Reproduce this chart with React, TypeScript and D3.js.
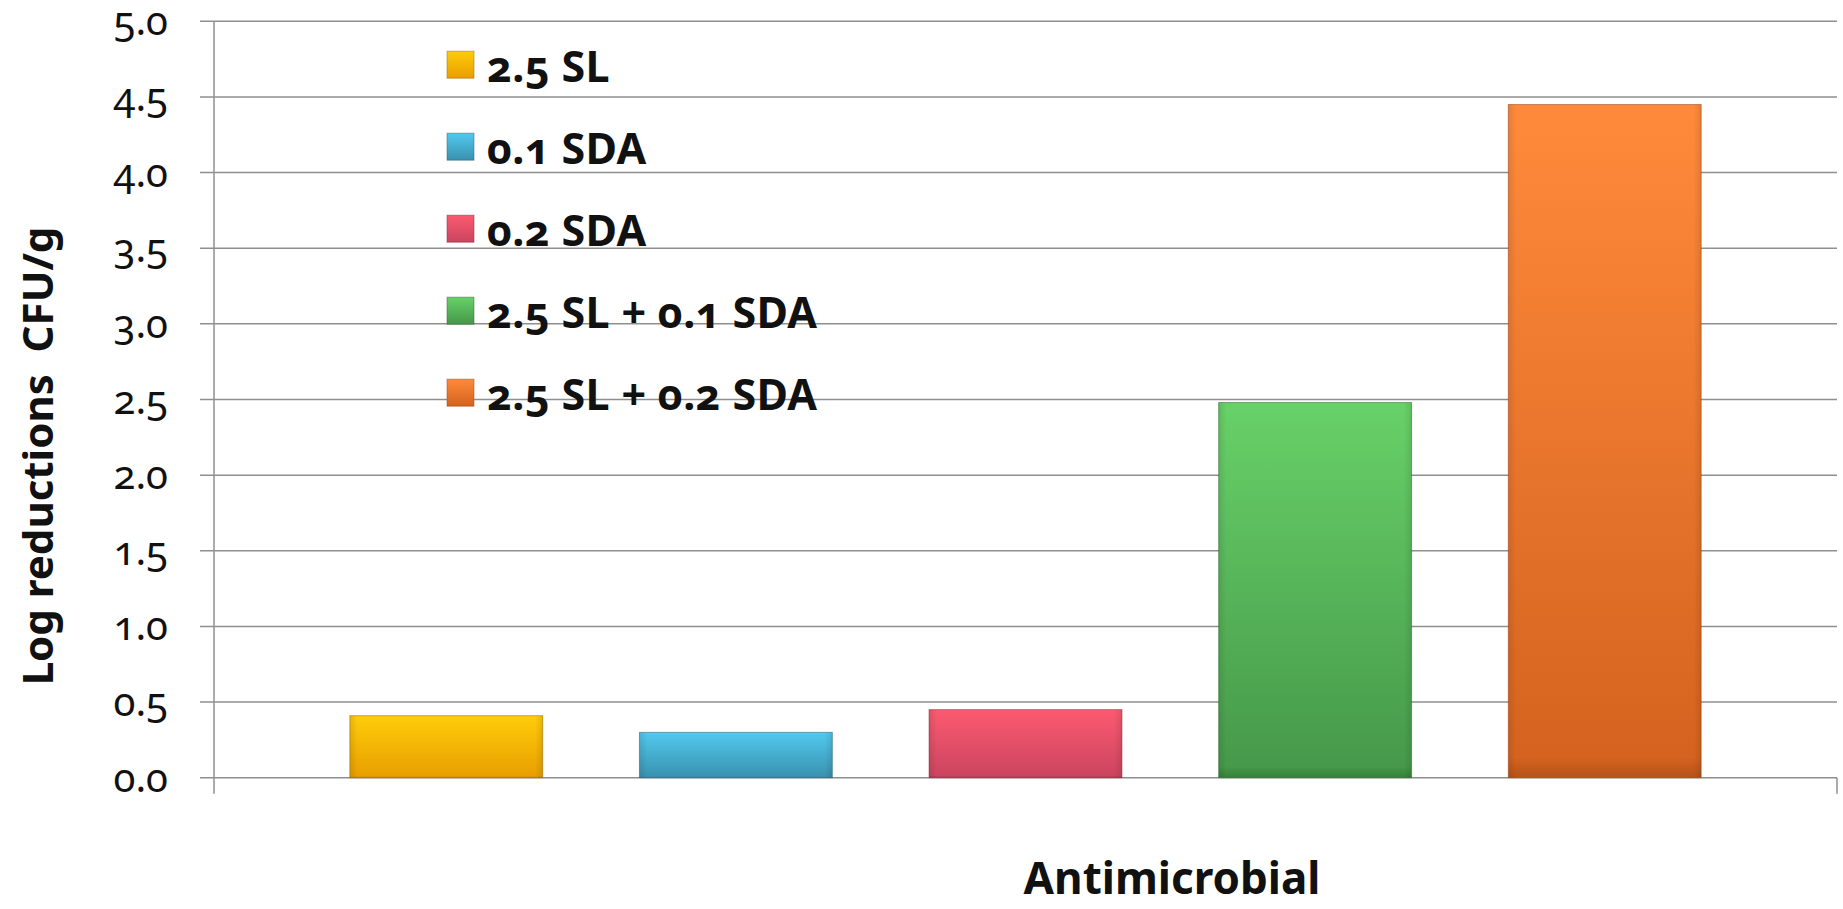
import React from "react";
import * as d3 from "d3";

// Treatments (each one drawn as its own bar within the single category)
const treatments: string[] = [
  "2.5 SL",
  "0.1 SDA",
  "0.2 SDA",
  "2.5 SL + 0.1 SDA",
  "2.5 SL + 0.2 SDA",
];

// Log reductions (CFU/g) per treatment
const logReductions: number[] = [0.41, 0.3, 0.45, 2.48, 4.45];

// Y-axis tick values
const yTicks: number[] = [0, 0.5, 1, 1.5, 2, 2.5, 3, 3.5, 4, 4.5, 5];

// Bar gradient stops: top, bottom, bottom edge
const barColors: [string, string, string][] = [
  ["#ffcc0a", "#e99f00", "#c98900"],
  ["#52c9ef", "#3a93b0", "#2d7890"],
  ["#fb5a70", "#cc4560", "#a6344b"],
  ["#68d168", "#46994a", "#37803a"],
  ["#ff8a3b", "#d5631f", "#b5521a"],
];
const edgeColors: string[] = ["#a07000", "#2a6a80", "#8e2c40", "#2f6e2f", "#a34a1b"];

const W = 1843;
const H = 909;
const plot = { left: 214, right: 1837, top: 21.3, bottom: 777.7 };

export default function App() {
  const x = d3
    .scaleBand<string>()
    .domain(treatments)
    .range([plot.left, plot.right])
    .paddingInner(0.334)
    .paddingOuter(0.469);
  const y = d3.scaleLinear().domain([0, 5]).range([plot.bottom, plot.top]);
  const fmt = d3.format(".1f");

  const font = "'Noto Sans', 'Open Sans', sans-serif";
  const gridColor = "#8f8f8f";

  return (
    <svg
      width={W}
      height={H}
      style={{ position: "absolute", left: 0, top: 0, background: "#fff" }}
      fontFamily={font}
    >
      <defs>
        {barColors.map((c, i) => (
          <linearGradient key={i} id={`bar-grad-${i}`} x1="0" y1="0" x2="0" y2="1">
            <stop offset="0" stopColor={c[0]} />
            <stop offset="0.97" stopColor={c[1]} />
            <stop offset="1" stopColor={c[2]} />
          </linearGradient>
        ))}
        <linearGradient id="bar-side" x1="0" y1="0" x2="1" y2="0">
          <stop offset="0" stopColor="#000" stopOpacity={0.1} />
          <stop offset="0.04" stopColor="#000" stopOpacity={0} />
          <stop offset="0.96" stopColor="#000" stopOpacity={0} />
          <stop offset="1" stopColor="#000" stopOpacity={0.1} />
        </linearGradient>
      </defs>

      {/* horizontal gridlines with left tick marks */}
      {yTicks.map((t) => (
        <line
          key={`g${t}`}
          x1={plot.left - 14}
          x2={plot.right}
          y1={y(t)}
          y2={y(t)}
          stroke={gridColor}
          strokeWidth={1.5}
        />
      ))}

      {/* y axis line */}
      <line x1={plot.left} x2={plot.left} y1={plot.top} y2={plot.bottom + 16} stroke={gridColor} strokeWidth={1.5} />
      {/* right category boundary tick */}
      <line x1={plot.right} x2={plot.right} y1={plot.bottom} y2={plot.bottom + 16} stroke={gridColor} strokeWidth={1.5} />

      {/* tick labels */}
      {yTicks.map((t) => (
        <text
          key={`l${t}`}
          x={168}
          y={y(t) + 14}
          textAnchor="end"
          fontSize={40}
          fill="#111"
          style={{ fontVariantNumeric: "oldstyle-nums" }}
        >
          {fmt(t)}
        </text>
      ))}

      {/* bars */}
      {treatments.map((name, i) => {
        const bx = x(name)!;
        const by = y(logReductions[i]);
        const bh = y(0) - by;
        return (
          <g key={name}>
            <rect x={bx} y={by} width={x.bandwidth()} height={bh} fill={`url(#bar-grad-${i})`} stroke={edgeColors[i]} strokeOpacity={0.55} strokeWidth={1} />
            <rect x={bx} y={by} width={x.bandwidth()} height={bh} fill="url(#bar-side)" />
          </g>
        );
      })}

      {/* legend */}
      {treatments.map((name, i) => {
        const cy = 64.7 + i * 82;
        return (
          <g key={`lg${name}`}>
            <rect x={447} y={cy - 13.5} width={27} height={27} fill={`url(#bar-grad-${i})`} stroke={edgeColors[i]} strokeOpacity={0.5} />
            <text
              x={487}
              y={cy + 17}
              fontSize={43}
              fontWeight="bold"
              fill="#111"
              style={{ fontVariantNumeric: "oldstyle-nums", letterSpacing: "0.3px" }}
            >
              {name}
            </text>
          </g>
        );
      })}

      {/* axis titles */}
      <text
        transform={`translate(53, 456) rotate(-90)`}
        textAnchor="middle"
        fontSize={42}
        fontWeight="bold"
        fill="#111"
        style={{ whiteSpace: "pre" }}
      >
        {"Log reductions  CFU/g"}
      </text>
      <text x={1172} y={894} textAnchor="middle" fontSize={44} fontWeight="bold" fill="#111">
        Antimicrobial
      </text>
    </svg>
  );
}
